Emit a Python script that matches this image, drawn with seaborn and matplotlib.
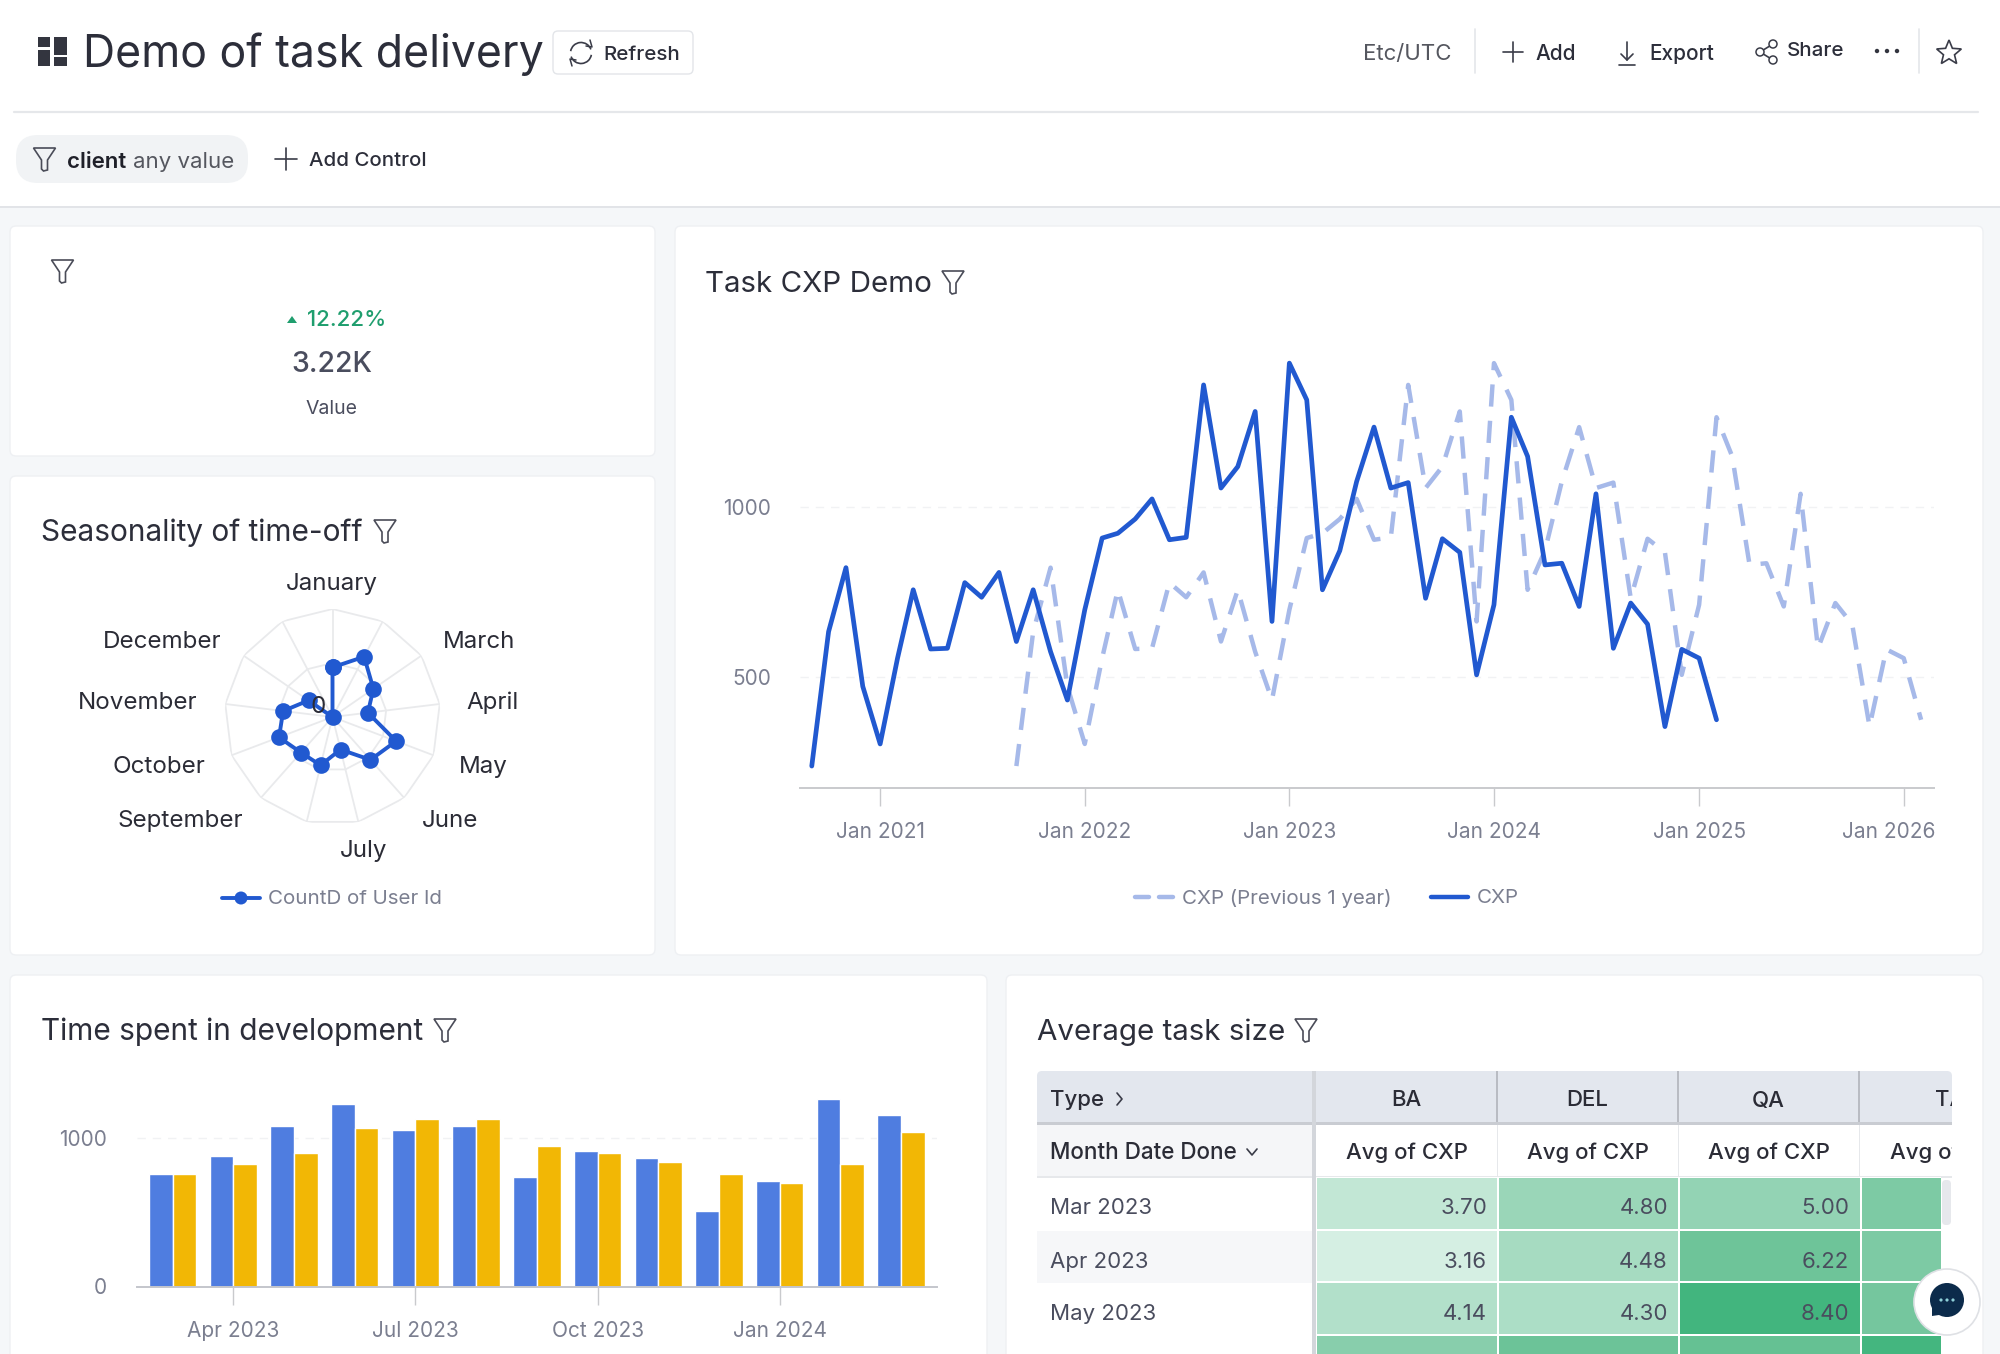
import matplotlib
matplotlib.use("Agg")
import matplotlib.pyplot as plt
import numpy as np
import pandas as pd
import seaborn as sns
from matplotlib.colors import LinearSegmentedColormap
from matplotlib.patches import Circle, FancyBboxPatch, Polygon, Rectangle, Arc
from matplotlib.transforms import ScaledTranslation

# line chart values, monthly from Sep 2020
cxp = [239, 634, 822, 473, 304, 556, 757, 583, 585, 778, 735, 808,
       605, 757, 575, 433, 698, 909, 923, 965, 1024, 904, 911, 1359,
       1056, 1119, 1281, 664, 1423, 1315, 757, 872, 1075, 1235, 1056, 1072,
       732, 907, 867, 507, 713, 1264, 1149, 830, 835, 708, 1039, 585,
       718, 656, 355, 582, 556, 375]
# same curve one year later, from Sep 2021
cxp_prev = [239, 634, 822, 473, 304, 556, 757, 583, 585, 778, 735, 808,
            605, 757, 575, 433, 698, 909, 923, 965, 1024, 904, 911, 1359,
            1056, 1119, 1281, 664, 1423, 1315, 757, 872, 1075, 1235, 1056, 1072,
            732, 907, 867, 507, 713, 1264, 1149, 830, 835, 708, 1039, 585,
            718, 656, 355, 582, 556, 375]
year_ticks = ["2021-01-01", "2022-01-01", "2023-01-01", "2024-01-01", "2025-01-01", "2026-01-01"]
year_labels = ["Jan 2021", "Jan 2022", "Jan 2023", "Jan 2024", "Jan 2025", "Jan 2026"]

# radar values (13 spokes, last one is empty)
radar_vals = [46, 63, 46, 33, 63, 53, 31, 46, 44, 53, 46, 27, 0]
radar_labels = ["January", "March", "April", "May", "June", "July",
                "September", "October", "November", "December"]

# bars
bar_months = ["Mar 2023", "Apr 2023", "May 2023", "Jun 2023", "Jul 2023", "Aug 2023", "Sep 2023",
              "Oct 2023", "Nov 2023", "Dec 2023", "Jan 2024", "Feb 2024", "Mar 2024"]
bar_blue = [761, 876, 1079, 1230, 1052, 1079, 736, 914, 863, 509, 709, 1266, 1153]
bar_yellow = [761, 824, 899, 1065, 1128, 1128, 950, 899, 838, 761, 698, 824, 1041]

# table
table_types = ["BA", "DEL", "QA", "TA"]
table_months = ["Mar 2023", "Apr 2023", "May 2023", "Jun 2023"]
table_vals = [[3.70, 4.80, 5.00, 5.60],
              [3.16, 4.48, 6.22, 5.60],
              [4.14, 4.30, 8.40, 5.90],
              [5.30, 6.30, 6.70, 8.30]]

W, H = 2000, 1354
sns.set_theme(style="white")
plt.rcParams["font.family"] = ["Inter", "DejaVu Sans"]

INK = "#2c2e3a"
GREY = "#7b7f90"
BLUE = "#2159d0"
PALE = "#a6b9e9"

fig = plt.figure(figsize=(W / 100, H / 100), dpi=100, facecolor="#f5f7f9")
bg = fig.add_axes([0, 0, 1, 1])
bg.set_xlim(0, W)
bg.set_ylim(H, 0)
bg.axis("off")
# overlay for text and the chat bubble, above the chart axes
fg = fig.add_axes([0, 0, 1, 1], zorder=10)
fg.set_xlim(0, W)
fg.set_ylim(H, 0)
fg.axis("off")


def px_axes(left, top, right, bottom, **kw):
    ax = fig.add_axes([left / W, 1 - bottom / H, (right - left) / W, (bottom - top) / H], zorder=5, **kw)
    ax.patch.set_alpha(0)
    return ax


def txt(x, y, s, size=15, color=INK, ha="left", weight="normal", clip=None):
    t = fg.text(x, y + 4, s, fontsize=size, color=color, ha=ha, va="center", fontweight=weight, zorder=5)
    if clip is not None:
        t.set_clip_on(True)
        t.set_clip_path(Rectangle((clip[0], clip[1]), clip[2] - clip[0], clip[3] - clip[1], transform=fg.transData))
    return t


def line(xs, ys, color="#e4e6ea", lw=1.2, z=2, **kw):
    bg.plot(xs, ys, color=color, lw=lw, zorder=z, solid_capstyle="round", **kw)


def box(l, t, r, b, fc="white", ec="#eef0f3", rad=6, z=1, lw=1):
    bg.add_patch(FancyBboxPatch((l + rad, t + rad), r - l - 2 * rad, b - t - 2 * rad,
                                boxstyle=f"round,pad={rad}", fc=fc, ec=ec, lw=lw, zorder=z))


def rect(l, t, r, b, fc, z=2):
    bg.add_patch(Rectangle((l, t), r - l, b - t, fc=fc, ec="none", zorder=z))


def funnel(x, y, s=1.0):
    pts = [(-11, -11), (11, -11), (3, 1), (3, 11), (-1, 12), (-3, 10), (-3, 1)]
    bg.add_patch(Polygon([(x + a * s, y + b * s) for a, b in pts], closed=True, fc="none",
                         ec="#4a4c58", lw=1.2, zorder=5))


def plus(x, y, r=10):
    line([x - r, x + r], [y, y], color="#3a3c48", lw=1.2, z=5)
    line([x, x], [y - r, y + r], color="#3a3c48", lw=1.2, z=5)


# header and control bars
rect(0, 0, W, 207, "white", z=0)
line([14, 1978], [112, 112], color="#e5e7ea", lw=1.6)
line([0, W], [207, 207], color="#e2e4e8", lw=1.4)

for l, t, r, b in [(38, 37, 50, 47), (38, 50, 50, 66), (54, 37, 67, 55), (54, 57, 67, 66)]:
    rect(l, t, r, b, "#33353f", z=5)
txt(83, 50.5, "Demo of task delivery", size=32.1, color=INK)
box(553, 31, 693, 74, ec="#e3e5e9", rad=5)
bg.add_patch(Arc((581, 53), 21, 21, theta1=190, theta2=340, ec="#3a3c48", lw=1.2, zorder=5))
bg.add_patch(Arc((581, 53), 21, 21, theta1=10, theta2=160, ec="#3a3c48", lw=1.2, zorder=5))
line([590, 592, 586], [40, 47, 46], color="#3a3c48", lw=1.1, z=5)
line([572, 570, 576], [66, 59, 60], color="#3a3c48", lw=1.1, z=5)
txt(603, 50.5, "Refresh", size=14.8, color=INK, weight="medium")

txt(1363, 49.5, "Etc/UTC", size=16, color="#55575f")
line([1475, 1475], [29, 73], color="#e4e6ea")
plus(1513, 52, 10)
txt(1535, 49.5, "Add", size=15, weight="medium")
line([1627, 1627], [42, 60], color="#3a3c48", z=5)
line([1621, 1627, 1633], [54, 60, 54], color="#3a3c48", z=5)
line([1619, 1635], [65, 65], color="#3a3c48", z=5)
txt(1649, 49.5, "Export", size=15, weight="medium")
for cx, cy in [(1760, 52), (1773, 44), (1773, 60)]:
    bg.add_patch(Circle((cx, cy), 4, fc="white", ec="#3a3c48", lw=1.1, zorder=6))
line([1760, 1773], [52, 44], color="#3a3c48", z=5)
line([1760, 1773], [52, 60], color="#3a3c48", z=5)
txt(1787, 47.5, "Share", size=14.8, weight="medium")
for cx in [1877, 1887, 1897]:
    bg.add_patch(Circle((cx, 51), 2.2, fc="#33353f", ec="none", zorder=5))
line([1919, 1919], [29, 73], color="#e4e6ea")
ang = np.pi / 2 + np.arange(10) * np.pi / 5
rad = np.where(np.arange(10) % 2 == 0, 13, 5.8)
bg.add_patch(Polygon(np.c_[1949 + rad * np.cos(ang), 53 - rad * np.sin(ang)], closed=True, fc="none",
                     ec="#3a3c48", lw=1.2, zorder=5))

box(16, 135, 248, 183, fc="#f1f3f5", ec="none", rad=22)
funnel(44.5, 159)
txt(67, 157.5, "client", size=16, weight="semibold", color="#1f2029")
txt(133, 157.5, "any value", size=16, color="#55575f")
plus(286, 159, 11)
txt(309, 157.5, "Add Control", size=14.7, weight="medium")

# cards
box(10, 226, 655, 456)
box(10, 476, 655, 955)
box(675, 226, 1983, 955)
box(10, 975, 987, 1400)
box(1006, 975, 1983, 1400)

# big number card
funnel(62.5, 271)
bg.add_patch(Polygon([(287, 323), (297, 323), (292, 316)], closed=True, fc="#1f9e6e", ec="none", zorder=5))
txt(307, 315.5, "12.22%", size=16, color="#1f9e6e", weight="medium")
txt(332, 360, "3.22K", size=20.5, color="#4a4d5e", ha="center", weight="medium")
txt(332, 405.5, "Value", size=14, color="#4a4d5e", ha="center")

# card titles
txt(705, 280, "Task CXP Demo", size=21.3, color=INK)
funnel(953, 282)
txt(41, 529, "Seasonality of time-off", size=21.5, color=INK)
funnel(385, 531)
txt(41, 1028, "Time spent in development", size=21.5, color=INK)
funnel(445, 1030)
txt(1037, 1028, "Average task size", size=21.3, color=INK)
funnel(1306, 1030)

# task cxp lines
dates = pd.date_range("2020-09-01", periods=len(cxp), freq="MS")
dates_prev = pd.date_range("2021-09-01", periods=len(cxp_prev), freq="MS")
ax = px_axes(800, 340, 1934, 787.5)
for y in [500, 1000]:
    ax.axhline(y, color="#f1f2f4", lw=1, dashes=(6, 5), zorder=0)
sns.lineplot(x=dates_prev, y=cxp_prev, ax=ax, color=PALE, lw=3.2, dashes=(5, 3.2), errorbar=None, estimator=None)
sns.lineplot(x=dates, y=cxp, ax=ax, color=BLUE, lw=3.4, errorbar=None, estimator=None)
ax.set_xlim(pd.Timestamp("2020-08-11"), pd.Timestamp("2026-02-24"))
ax.set_ylim(176, 1491)
ax.set_xticks(pd.to_datetime(year_ticks))
ax.set_xticklabels(year_labels)
ax.set_yticks([500, 1000])
ax.set_yticklabels(["500", "1000"])
ax.set_xlabel("")
ax.set_ylabel("")
ax.tick_params(axis="x", length=13, width=1, color="#c9cacd", labelsize=15, labelcolor=GREY, pad=12, bottom=True)
ax.tick_params(axis="y", length=0, labelsize=15, labelcolor=GREY, pad=21)
sns.despine(ax=ax, left=True)
ax.spines["bottom"].set_color("#c9cacd")
ax.spines["bottom"].set_linewidth(1.4)
last = ax.get_xticklabels()[-1]
last.set_transform(last.get_transform() + ScaledTranslation(-0.15, 0, fig.dpi_scale_trans))

line([1135, 1149], [897, 897], color=PALE, lw=3.2)
line([1159, 1173], [897, 897], color=PALE, lw=3.2)
txt(1182, 894, "CXP (Previous 1 year)", size=14.8, color=GREY)
line([1431, 1468], [897, 897], color=BLUE, lw=3.2)
txt(1477, 894, "CXP", size=14.8, color=GREY)

# radar
theta = np.arange(len(radar_vals)) * 2 * np.pi / len(radar_vals)
rax = px_axes(224.5, 609, 440.5, 825, projection="polar")
rax.set_theta_zero_location("N")
rax.set_theta_direction(-1)
rax.set_ylim(0, 100)
rax.grid(False)
rax.spines["polar"].set_visible(False)
ring_theta = np.r_[theta, theta[0]]
for ring in [50, 100]:
    rax.plot(ring_theta, np.full(len(ring_theta), ring), color="#e9eaec", lw=1.3, zorder=1)
for th in theta:
    rax.plot([th, th], [0, 100], color="#e9eaec", lw=1.3, zorder=1)
sns.lineplot(x=np.r_[theta, theta[0]], y=radar_vals + radar_vals[:1], ax=rax, sort=False, estimator=None,
             errorbar=None, color=BLUE, lw=2.8, marker="o", markersize=12, markeredgewidth=0, zorder=3)
rax.set_xlabel("")
rax.set_ylabel("")
rax.set_xticks([])
rax.set_yticks([])
rax.set_ylim(0, 100)

label_spots = [(332, 580), (479, 638), (493, 699), (483, 763), (450, 817), (364, 847),
               (180, 817), (159, 763), (138, 699), (162, 638)]
for (lx, ly), name in zip(label_spots, radar_labels):
    txt(lx, ly, name, size=17.4, color="#2b2c36", ha="center")
txt(318, 703, "0", size=17.4, color="#2b2c36", ha="center")
line([222, 260], [898, 898], color=BLUE, lw=2.8)
bg.add_patch(Circle((241, 898), 6.5, fc=BLUE, ec="none", zorder=5))
txt(268, 894.5, "CountD of User Id", size=14.8, color=GREY)

# bars
bars = pd.DataFrame({"month": bar_months * 2, "val": bar_blue + bar_yellow,
                     "kind": ["a"] * len(bar_months) + ["b"] * len(bar_months)})
bax = px_axes(137, 1090, 937, 1286.5)
bax.axhline(1000, color="#f1f2f4", lw=1, dashes=(6, 5), zorder=0)
sns.barplot(data=bars, x="month", y="val", hue="kind", ax=bax, palette=["#4f7de0", "#f2b705"],
            width=0.78, gap=0, saturation=1, legend=False, errorbar=None, zorder=2)
bax.set_xlim(-0.586, 12.59)
bax.set_ylim(0, 1324)
bax.set_xticks([1, 4, 7, 10])
bax.set_xticklabels(["Apr 2023", "Jul 2023", "Oct 2023", "Jan 2024"])
bax.set_yticks([0, 1000])
bax.set_yticklabels(["0", "1000"])
bax.set_xlabel("")
bax.set_ylabel("")
bax.tick_params(axis="x", length=13, width=1, color="#c9cacd", labelsize=15, labelcolor=GREY, pad=12, bottom=True)
bax.tick_params(axis="y", length=0, labelsize=15, labelcolor=GREY, pad=22)
sns.despine(ax=bax, left=True)
bax.spines["bottom"].set_color("#c4c6cc")
bax.spines["bottom"].set_linewidth(1.4)

# table
box(1037, 1071, 1952, 1130, fc="#e3e7ee", ec="none", rad=5, z=2)
rect(1315, 1124, 1952, 1177, "white", z=2)
rect(1037, 1124, 1312, 1177, "#f5f6f8", z=2)
rect(1037, 1231, 1312, 1283, "#f6f7f9", z=2)
rect(1037, 1122, 1952, 1125, "#c9ccd2", z=3)
rect(1037, 1176, 1952, 1178, "#e6e8eb", z=3)
rect(1312, 1071, 1316, 1354, "#d3d6db", z=3)
for sep in [1497, 1678, 1859]:
    rect(sep - 0.7, 1071, sep + 0.7, 1122, "#b9bcc3", z=3)
    rect(sep - 0.5, 1125, sep + 0.5, 1177, "#e6e8eb", z=3)

hmap = LinearSegmentedColormap.from_list("task", ["#d5efe3", "#77c79f", "#42b57e"])
hax = px_axes(1316, 1177, 1941, 1354)
sns.heatmap(np.array(table_vals), ax=hax, cmap=hmap, vmin=3.16, vmax=8.4, cbar=False, linewidths=1.2,
            linecolor="white", xticklabels=False, yticklabels=False)
hax.set_xlim(0, 625 / 181.5)
hax.set_ylim(177 / 52.6, 0)

clip = (1037, 1071, 1952, 1354)
txt(1050, 1096.5, "Type", size=16, weight="medium", color="#2b2c36")
line([1117, 1122, 1117], [1093, 1099, 1105], color="#3a3c48", z=5)
txt(1050, 1149, "Month Date Done", size=16.2, weight="medium", color="#2b2c36")
line([1247, 1252, 1257], [1149, 1155, 1149], color="#3a3c48", z=5)
for cx, name in zip([1406, 1587, 1768, 1950], table_types):
    txt(cx, 1096.5, name, size=16, weight="medium", color="#2b2c36", ha="center", clip=clip)
    txt(cx + 1, 1149, "Avg of CXP", size=16, weight="medium", color="#2b2c36", ha="center", clip=clip)
for r, month in enumerate(table_months[:3]):
    ry = [1204.5, 1257.5, 1309.5][r]
    txt(1050, ry, month, size=16, color="#4a4d5e")
    for c, right in enumerate([1487, 1668, 1849]):
        txt(right, ry, f"{table_vals[r][c]:.2f}", size=16, color="#4a4d5e", ha="right")

# scrollbar + chat bubble
box(1942, 1180, 1951, 1225, fc="#e6e8ec", ec="none", rad=4, z=3)
fg.add_patch(Circle((1947, 1302), 33, fc="white", ec="#dfe1e5", lw=1.2, zorder=7))
fg.add_patch(Circle((1947, 1300), 17, fc="#0c2b4b", ec="none", zorder=8))
fg.add_patch(Polygon([(1932, 1305), (1932, 1316), (1946, 1314)], closed=True, fc="#0c2b4b", ec="none", zorder=8))
for cx in [1941, 1947, 1953]:
    fg.add_patch(Circle((cx, 1300), 1.6, fc="#8fd0d8", ec="none", zorder=9))

fig.savefig("out.png", dpi=100)
